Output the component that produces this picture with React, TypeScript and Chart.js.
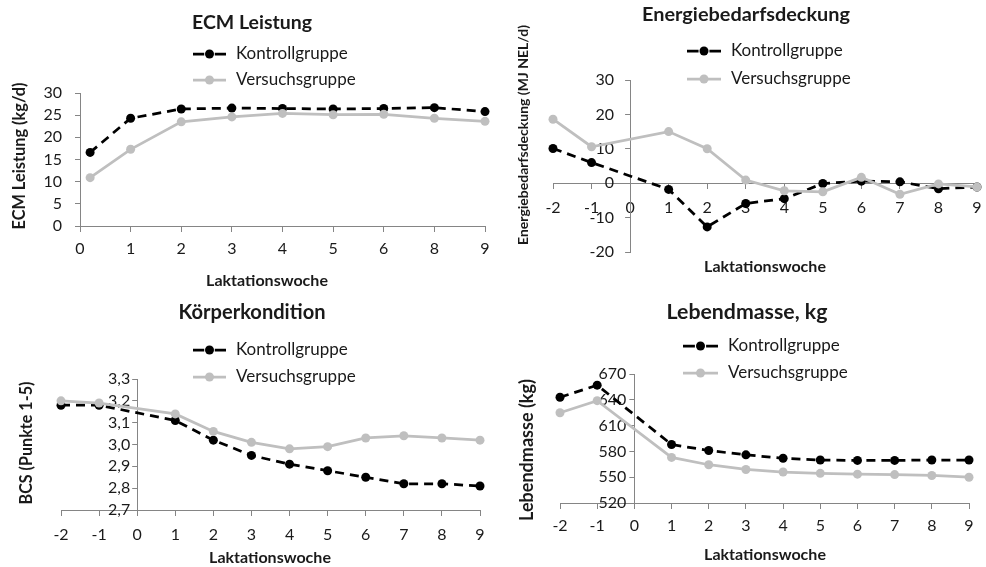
import React, { useEffect, useRef } from 'react';
import { Chart, registerables } from 'chart.js';

Chart.register(...registerables);

const FONT = 'Lato, "Liberation Sans", sans-serif';
const TEXT = '#1a1a1a';
const AXIS = '#858585';
const K_COLOR = '#000000';
const V_COLOR = '#BFBFBF';

const seriesNames = ['Kontrollgruppe', 'Versuchsgruppe'];
const xAxisTitle = 'Laktationswoche';

// Panel 1: ECM Leistung
const ecmTickLabels = ['0', '1', '2', '3', '4', '5', '6', '8', '9'];
const ecmWeekPos = [0.2, 1, 2, 3, 4, 5, 6, 7, 8];
const ecmKontroll = [16.6, 24.3, 26.4, 26.6, 26.5, 26.4, 26.5, 26.7, 25.8];
const ecmVersuch = [10.9, 17.3, 23.5, 24.6, 25.4, 25.1, 25.2, 24.3, 23.6];

// Panels 2-4 share the weeks
const weeks = [-2, -1, 0, 1, 2, 3, 4, 5, 6, 7, 8, 9];

// Panel 2: Energiebedarfsdeckung
const energyKontroll = [10.1, 6.0, null, -1.8, -12.7, -5.9, -4.5, -0.1, 0.6, 0.4, -1.6, -1.1];
const energyVersuch = [18.6, 10.6, null, 15.0, 10.0, 0.9, -2.2, -2.5, 1.7, -3.2, -0.2, -1.1];

// Panel 3: Körperkondition
const bcsKontroll = [3.18, 3.18, null, 3.11, 3.02, 2.95, 2.91, 2.88, 2.85, 2.82, 2.82, 2.81];
const bcsVersuch = [3.2, 3.19, null, 3.14, 3.06, 3.01, 2.98, 2.99, 3.03, 3.04, 3.03, 3.02];

// Panel 4: Lebendmasse
const massKontroll = [643, 657, null, 588, 581, 576, 572, 570, 569.5, 569.5, 570, 570];
const massVersuch = [625, 639, null, 573, 564.5, 559, 556, 554.5, 553.5, 553, 552, 550];

type Panel = {
  ox: number; oy: number; w: number; h: number;
  title: string; titleX: number; titleY: number; titleLen: number;
  legendX: number; legendTextX: number; legendY: number[];
  yTitle: string; yTitleX: number; yTitleY: number; yTitleLen: number;
  xTitleX: number; xTitleY: number;
  area: number[];
  xs: number[]; xMin: number; xMax: number; xLabel: (v: number) => string;
  yMin: number; yMax: number; yStep: number; yFmt: (v: number) => string;
  kontroll: (number | null)[]; versuch: (number | null)[];
  yCross: number; xCross: number;
  xPad: number; yPad: number;
};

const panels: Panel[] = [
  {
    ox: 0, oy: 0, w: 493, h: 290,
    title: 'ECM Leistung', titleX: 252, titleY: 23, titleLen: 120,
    legendX: 193, legendTextX: 236, legendY: [54, 80],
    yTitle: 'ECM Leistung (kg/d)', yTitleX: 20, yTitleY: 156, yTitleLen: 147,
    xTitleX: 267, xTitleY: 281,
    area: [80, 93, 485, 226],
    xs: ecmWeekPos, xMin: 0, xMax: 8, xLabel: (v) => ecmTickLabels[v] ?? '',
    yMin: 0, yMax: 30, yStep: 5, yFmt: (v) => String(v),
    kontroll: ecmKontroll, versuch: ecmVersuch,
    yCross: 0, xCross: 0, xPad: 8, yPad: 13,
  },
  {
    ox: 493, oy: 0, w: 493, h: 290,
    title: 'Energiebedarfsdeckung', titleX: 746, titleY: 15, titleLen: 208,
    legendX: 687, legendTextX: 731, legendY: [51, 79],
    yTitle: 'Energiebedarfsdeckung (MJ NEL/d)', yTitleX: 523, yTitleY: 135, yTitleLen: 220,
    xTitleX: 765, xTitleY: 267,
    area: [553, 80, 977, 252],
    xs: weeks, xMin: -2, xMax: 9, xLabel: (v) => String(v),
    yMin: -20, yMax: 30, yStep: 10, yFmt: (v) => String(v),
    kontroll: energyKontroll, versuch: energyVersuch,
    yCross: 0, xCross: 0, xPad: 10, yPad: 11,
  },
  {
    ox: 0, oy: 290, w: 493, h: 277,
    title: 'Körperkondition', titleX: 252, titleY: 313, titleLen: 147,
    legendX: 193, legendTextX: 236, legendY: [350, 377],
    yTitle: 'BCS (Punkte 1-5)', yTitleX: 27, yTitleY: 443, yTitleLen: 123,
    xTitleX: 270, xTitleY: 558,
    area: [61, 379, 480, 510],
    xs: weeks, xMin: -2, xMax: 9, xLabel: (v) => String(v),
    yMin: 2.7, yMax: 3.3, yStep: 0.1, yFmt: (v) => v.toFixed(1).replace('.', ','),
    kontroll: bcsKontroll, versuch: bcsVersuch,
    yCross: 0, xCross: 2.7, xPad: 10, yPad: 2,
  },
  {
    ox: 493, oy: 290, w: 493, h: 277,
    title: 'Lebendmasse, kg', titleX: 747, titleY: 312, titleLen: 161,
    legendX: 683, legendTextX: 728, legendY: [346, 373],
    yTitle: 'Lebendmasse (kg)', yTitleX: 527, yTitleY: 450, yTitleLen: 142,
    xTitleX: 765, xTitleY: 555,
    area: [560, 374, 969, 503],
    xs: weeks, xMin: -2, xMax: 9, xLabel: (v) => String(v),
    yMin: 520, yMax: 670, yStep: 30, yFmt: (v) => String(v),
    kontroll: massKontroll, versuch: massVersuch,
    yCross: 0, xCross: 520, xPad: 8, yPad: 3,
  },
];

function fitFont(ctx: CanvasRenderingContext2D, text: string, target: number, weight: string) {
  ctx.font = `${weight} 16px ${FONT}`;
  const wd = ctx.measureText(text).width || 1;
  const size = (16 * target) / wd;
  ctx.font = `${weight} ${size.toFixed(2)}px ${FONT}`;
}

function makeDecor(p: Panel) {
  return {
    id: 'decor',
    afterLayout(chart: any) {
      // place the value axis where the category axis crosses it (as in the original)
      const xs = chart.scales.x;
      const ys = chart.scales.y;
      const px = xs.getPixelForValue(p.yCross);
      ys.left = px - 120;
      ys.right = px;
      ys.width = 120;
    },
    afterDraw(chart: any) {
      const ctx = chart.ctx as CanvasRenderingContext2D;
      ctx.save();
      ctx.fillStyle = TEXT;
      ctx.textAlign = 'center';
      ctx.textBaseline = 'middle';
      fitFont(ctx, p.title, p.titleLen, 'bold');
      ctx.fillText(p.title, p.titleX - p.ox, p.titleY - p.oy);
      fitFont(ctx, xAxisTitle, 122, 'bold');
      ctx.fillText(xAxisTitle, p.xTitleX - p.ox, p.xTitleY - p.oy);
      ctx.save();
      ctx.translate(p.yTitleX - p.ox, p.yTitleY - p.oy);
      ctx.rotate(-Math.PI / 2);
      fitFont(ctx, p.yTitle, p.yTitleLen, 'bold');
      ctx.fillText(p.yTitle, 0, 0);
      ctx.restore();
      // legend
      const sets = chart.data.datasets;
      sets.forEach((ds: any, i: number) => {
        const y = p.legendY[i] - p.oy;
        const x0 = p.legendX - p.ox;
        const len = p.legendTextX - p.legendX - 10;
        ctx.strokeStyle = ds.borderColor;
        ctx.lineWidth = ds.borderWidth;
        ctx.beginPath();
        if (ds.borderDash && ds.borderDash.length) {
          ctx.moveTo(x0, y); ctx.lineTo(x0 + len * 0.34, y);
          ctx.moveTo(x0 + len * 0.66, y); ctx.lineTo(x0 + len, y);
        } else {
          ctx.moveTo(x0, y); ctx.lineTo(x0 + len, y);
        }
        ctx.stroke();
        ctx.fillStyle = ds.pointBackgroundColor;
        ctx.beginPath();
        ctx.arc(x0 + len / 2, y, ds.pointRadius, 0, Math.PI * 2);
        ctx.fill();
        ctx.fillStyle = TEXT;
        ctx.textAlign = 'left';
        ctx.font = `17px ${FONT}`;
        ctx.fillText(ds.label, p.legendTextX - p.ox, y);
      });
      ctx.restore();
    },
  };
}

function makeConfig(p: Panel): any {
  const toPts = (vals: (number | null)[]) => vals.map((v, i) => ({ x: p.xs[i], y: v }));
  const [l, t, r, b] = p.area;
  const zeroSize = (s: any) => {
    if (s.isHorizontal()) s.height = 0; else s.width = 0;
    s.paddingLeft = 0;
    s.paddingRight = 0;
    s.paddingTop = 0;
    s.paddingBottom = 0;
  };
  const grid = { display: true, drawOnChartArea: false, drawTicks: true, tickLength: 5, color: AXIS, lineWidth: 1 };
  return {
    type: 'line',
    data: {
      datasets: [
        {
          label: seriesNames[0], data: toPts(p.kontroll), order: 1,
          borderColor: K_COLOR, borderWidth: 2.75, borderDash: [9, 6],
          pointRadius: 4.5, pointBackgroundColor: K_COLOR, pointBorderWidth: 0,
          spanGaps: true, clip: false, tension: 0,
        },
        {
          label: seriesNames[1], data: toPts(p.versuch), order: 0,
          borderColor: V_COLOR, borderWidth: 2.75,
          pointRadius: 4.5, pointBackgroundColor: V_COLOR, pointBorderWidth: 0,
          spanGaps: true, clip: false, tension: 0,
        },
      ],
    },
    options: {
      animation: false,
      responsive: false,
      devicePixelRatio: 1,
      layout: { padding: { left: l - p.ox, top: t - p.oy, right: p.ox + p.w - r, bottom: p.oy + p.h - b } },
      plugins: { legend: { display: false }, title: { display: false }, tooltip: { enabled: false } },
      scales: {
        x: {
          type: 'linear', min: p.xMin, max: p.xMax,
          position: { y: p.xCross },
          grid, border: { display: true, color: AXIS, width: 1 },
          afterFit: zeroSize,
          ticks: {
            stepSize: 1, autoSkip: false, maxRotation: 0, padding: p.xPad,
            color: TEXT, font: { family: FONT, size: 16 },
            callback: (v: number) => p.xLabel(v),
          },
        },
        y: {
          type: 'linear', min: p.yMin, max: p.yMax,
          position: 'left',
          grid, border: { display: true, color: AXIS, width: 1 },
          afterFit: zeroSize,
          ticks: {
            stepSize: p.yStep, autoSkip: false, padding: p.yPad,
            color: TEXT, font: { family: FONT, size: 16 },
            callback: (v: number) => p.yFmt(v),
          },
        },
      },
    },
    plugins: [makeDecor(p)],
  };
}

function PanelChart({ p }: { p: Panel }) {
  const ref = useRef<HTMLCanvasElement | null>(null);
  useEffect(() => {
    if (!ref.current) return;
    const chart = new Chart(ref.current, makeConfig(p));
    return () => chart.destroy();
  }, [p]);
  return (
    <canvas
      ref={ref}
      width={p.w}
      height={p.h}
      style={{ position: 'absolute', left: p.ox, top: p.oy, width: p.w, height: p.h }}
    />
  );
}

export default function App() {
  return (
    <div style={{ position: 'absolute', left: 0, top: 0, width: 986, height: 567, background: '#ffffff' }}>
      {panels.map((p, i) => (
        <PanelChart key={i} p={p} />
      ))}
    </div>
  );
}
